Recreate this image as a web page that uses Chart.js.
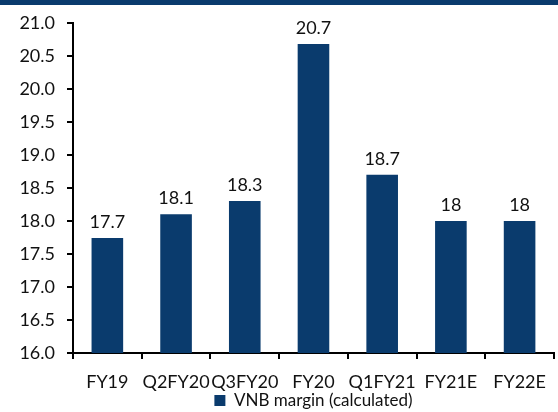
<!DOCTYPE html>
<html>
<head>
<meta charset="utf-8">
<script src="https://cdn.jsdelivr.net/npm/chart.js@4"></script>
<style>
  html, body { margin: 0; padding: 0; background: #fff; }
  #wrap { position: relative; width: 558px; height: 412px; }
  #topBar { position: absolute; left: 0; top: 0; width: 558px; height: 5px; background: #0a3b6d; }
  canvas { position: absolute; left: 0; top: 0; }
</style>
</head>
<body>
<div id="wrap">
  <canvas id="vnbChart" width="558" height="412"></canvas>
  <div id="topBar"></div>
</div>
<script>
// VNB margin by period
const periods = ["FY19", "Q2FY20", "Q3FY20", "FY20", "Q1FY21", "FY21E", "FY22E"];
const vnbMargin = [17.74, 18.1, 18.3, 20.68, 18.7, 18, 18];
const valueLabels = ["17.7", "18.1", "18.3", "20.7", "18.7", "18", "18"];

const barColor = "#0a3b6d";
const fontFamily = "Lato, 'Open Sans', sans-serif";

// write the value over each bar
const barValues = {
    id: "barValues",
    afterDatasetsDraw(chart) {
        const ctx = chart.ctx;
        const meta = chart.getDatasetMeta(0);
        ctx.save();
        ctx.font = "18px " + fontFamily;
        ctx.fillStyle = "#111";
        ctx.textAlign = "center";
        ctx.textBaseline = "bottom";
        meta.data.forEach((bar, i) => {
            ctx.fillText(valueLabels[i], bar.x, bar.y - 7);
        });
        ctx.restore();
    }
};

const ctx = document.getElementById("vnbChart").getContext("2d");
new Chart(ctx, {
    type: "bar",
    data: {
        labels: periods,
        datasets: [{
            label: "VNB margin (calculated)",
            data: vnbMargin,
            backgroundColor: barColor,
            borderWidth: 0,
            categoryPercentage: 1,
            barPercentage: 0.46
        }]
    },
    options: {
        responsive: false,
        animation: false,
        // legend sits tight against the bottom edge
        layout: { padding: { top: 18, right: 1, left: 0, bottom: -7 } },
        plugins: {
            legend: {
                position: "bottom",
                fullSize: false,
                labels: {
                    font: { family: fontFamily, size: 17 },
                    color: "#111",
                    boxWidth: 11,
                    boxHeight: 11,
                    padding: 1
                }
            },
            tooltip: { enabled: false }
        },
        scales: {
            x: {
                grid: { display: true, drawOnChartArea: false, drawTicks: true, tickLength: 6, color: "#000", lineWidth: 2, offset: true },
                border: { display: true, color: "#000", width: 2 },
                ticks: { font: { family: fontFamily, size: 18 }, color: "#111", maxRotation: 0, autoSkip: false, padding: 12 },
                afterFit(scale) { scale.height = 38; }
            },
            y: {
                min: 16,
                max: 21,
                grid: { display: true, drawOnChartArea: false, drawTicks: true, tickLength: 6, color: "#000", lineWidth: 2 },
                border: { display: true, color: "#000", width: 2 },
                ticks: {
                    stepSize: 0.5,
                    font: { family: fontFamily, size: 18 },
                    color: "#111",
                    padding: 12,
                    callback: v => v.toFixed(1)
                },
                afterFit(scale) { scale.width = 73; }
            }
        }
    },
    plugins: [barValues]
});
</script>
</body>
</html>
